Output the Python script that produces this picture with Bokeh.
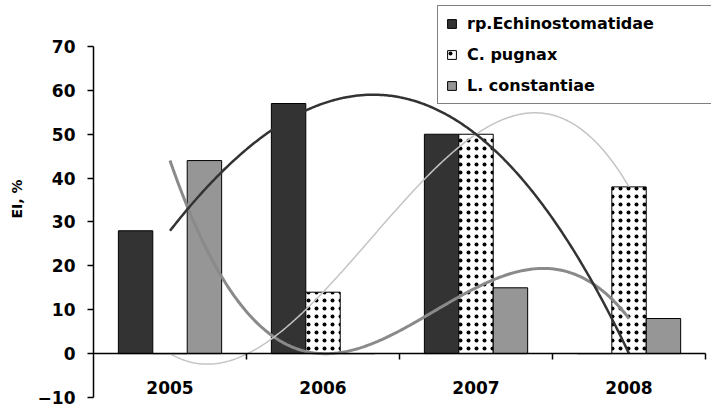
import numpy as np
from bokeh.plotting import figure
from bokeh.models import Range1d, LinearAxis, FixedTicker, Legend, LegendItem
from bokeh.embed import file_html
from bokeh.resources import INLINE

years = ["2005", "2006", "2007", "2008"]
echinostomatidae = [28, 57, 50, 0]
c_pugnax = [0, 14, 50, 38]
l_constantiae = [44, 0, 15, 8]
y_ticks = [-10, 0, 10, 20, 30, 40, 50, 60, 70]
series_names = ["rp.Echinostomatidae", "C. pugnax", "L. constantiae"]

FONT = "DejaVu Sans"

pos = np.arange(1, len(years) + 1)
bw = 0.225

# frame spans to the top/right edges; axes are bounded to the data extent
p = figure(width=711, height=405, x_range=Range1d(0.5, 4.539), y_range=Range1d(-10, 80.48),
           output_backend="svg", toolbar_location=None, x_axis_type=None,
           min_border_left=93, min_border_right=0, min_border_top=0, min_border_bottom=8)
p.grid.visible = False
p.outline_line_color = None
p.background_fill_color = "white"
p.border_fill_color = "white"

# y axis
yax = p.yaxis[0]
yax.ticker = FixedTicker(ticks=y_ticks)
yax.bounds = (y_ticks[0], y_ticks[-1])
yax.minor_tick_line_color = None
yax.major_tick_in = 0
yax.major_tick_out = 6
yax.axis_line_color = "black"
yax.axis_line_width = 1.5
yax.major_tick_line_color = "black"
yax.major_tick_line_width = 1.5
yax.major_label_text_font = FONT
yax.major_label_text_font_style = "bold"
yax.major_label_text_font_size = "17px"
yax.major_label_text_color = "black"
yax.major_label_standoff = 12
yax.axis_label = "EI, %"
yax.axis_label_text_font = FONT
yax.axis_label_text_font_style = "bold"
yax.axis_label_text_font_size = "14px"
yax.axis_label_text_color = "black"
yax.axis_label_standoff = 10

# x axis at y=0: ticks between categories
bounds_ticks = [float(b) for b in pos + 0.5]
tick_ax = LinearAxis(ticker=FixedTicker(ticks=bounds_ticks), fixed_location=0,
                     bounds=(0.5, float(pos[-1] + 0.5)),
                     major_label_overrides={b: "" for b in bounds_ticks},
                     minor_tick_line_color=None,
                     major_tick_in=0, major_tick_out=6, axis_line_color="black",
                     axis_line_width=1.5, major_tick_line_color="black", major_tick_line_width=1.5)
p.add_layout(tick_ax, "below")
label_ax = LinearAxis(ticker=FixedTicker(ticks=[int(k) for k in pos]), fixed_location=0,
                      major_label_overrides={int(k): y for k, y in zip(pos, years)},
                      axis_line_color=None, major_tick_line_color=None, minor_tick_line_color=None,
                      major_label_text_font=FONT, major_label_text_font_style="bold",
                      major_label_text_font_size="17px", major_label_text_color="black",
                      major_label_standoff=21)
p.add_layout(label_ax, "below")

# bars
r1 = p.vbar(x=pos - bw, top=echinostomatidae, width=bw, fill_color="#333333", line_color="black", line_width=1)
r2 = p.vbar(x=pos, top=c_pugnax, width=bw, fill_color="white", line_color="black", line_width=1,
            hatch_pattern="dot", hatch_color="black", hatch_scale=8, hatch_weight=0.5)
r3 = p.vbar(x=pos + bw, top=l_constantiae, width=bw, fill_color="#969696", line_color="black", line_width=1)

# polynomial (order 3) trend lines
xs = np.linspace(pos[0], pos[-1], 300)
for vals, col, lw in [(l_constantiae, "#8a8a8a", 3), (c_pugnax, "#c4c4c4", 1.5), (echinostomatidae, "#333333", 2.5)]:
    c = np.polyfit(pos, vals, 3)
    p.line(xs, np.polyval(c, xs), line_color=col, line_width=lw)

legend = Legend(items=[LegendItem(label=series_names[0], renderers=[r1]),
                       LegendItem(label=series_names[1], renderers=[r2]),
                       LegendItem(label=series_names[2], renderers=[r3])],
                location=(344, 293), orientation="vertical",
                padding=8, spacing=12, label_height=18, label_width=236,
                glyph_width=11, glyph_height=11, label_standoff=10,
                label_text_font=FONT, label_text_font_style="bold", label_text_font_size="16px",
                label_text_color="black", border_line_color="black", border_line_width=1.5,
                background_fill_color="white", background_fill_alpha=1, margin=0)
p.add_layout(legend)

open("out.html", "w").write(file_html(p, INLINE))
